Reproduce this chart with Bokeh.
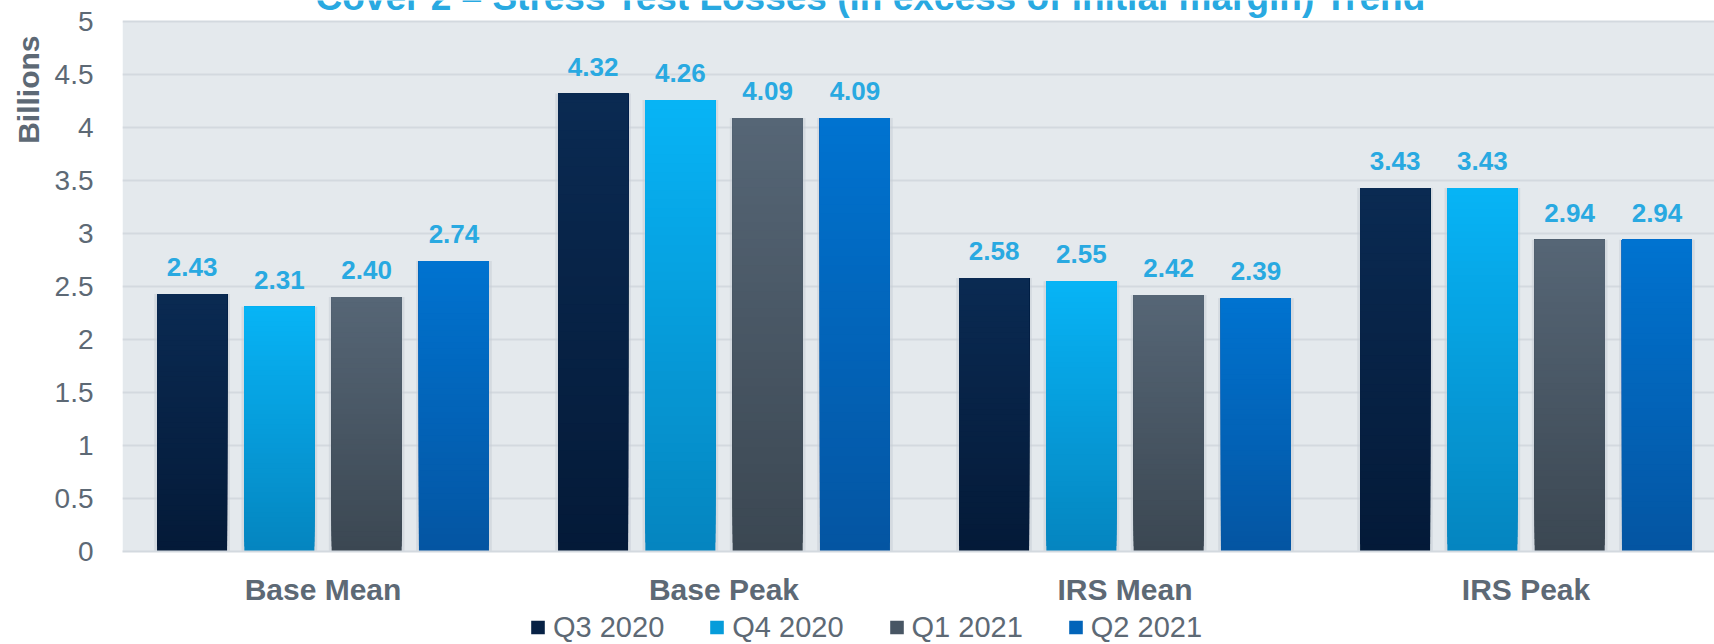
from bokeh.plotting import figure
from bokeh.layouts import column
from bokeh.models import (Range1d, FixedTicker, NumeralTickFormatter, Label, LabelSet,
                          ColumnDataSource, BoxAnnotation, Title)
from bokeh.core.properties import value
from bokeh.embed import file_html
from bokeh.resources import INLINE

# ---- data ----
categories = ["Base Mean", "Base Peak", "IRS Mean", "IRS Peak"]
series = ["Q3 2020", "Q4 2020", "Q1 2021", "Q2 2021"]
q3_2020 = [2.43, 4.32, 2.58, 3.43]
q4_2020 = [2.31, 4.26, 2.55, 3.43]
q1_2021 = [2.40, 4.09, 2.42, 2.94]
q2_2021 = [2.74, 4.09, 2.39, 2.94]
y_ticks = [0, 0.5, 1, 1.5, 2, 2.5, 3, 3.5, 4, 4.5, 5]
title_text = "Cover 2 \u2013 Stress Test Losses (in excess of initial margin) Trend"
y_label = "Billions"

values = [q3_2020, q4_2020, q1_2021, q2_2021]
# gradient colours (top, bottom) per series
grad = [("#0A2A52", "#041A38"), ("#07B4F6", "#0585BF"),
        ("#566676", "#3B4752"), ("#0073D0", "#0455A2")]

GRAY = "#5D6975"
BLUE = "#29A9E1"
FONT = "Liberation Sans"

PITCH = 0.2177
BAR_W = 0.1746
N = 50
Y_MAX = y_ticks[-1]

def hex2rgb(h):
    h = h.lstrip("#")
    return tuple(int(h[i:i + 2], 16) for i in (0, 2, 4))

def mix(c1, c2, t):
    a, b = hex2rgb(c1), hex2rgb(c2)
    return "#%02x%02x%02x" % tuple(round(a[k] * (1 - t) + b[k] * t) for k in range(3))

# ---------------- main chart ----------------
p = figure(width=1714, height=610, x_range=Range1d(0, 3.97), y_range=Range1d(0, Y_MAX * 551 / 530),
           output_backend="svg", toolbar_location=None,
           min_border_left=122, min_border_right=0, min_border_top=0, min_border_bottom=59)

p.background_fill_color = "white"
p.border_fill_color = "white"
p.outline_line_color = None
# plot-area background only up to the top tick
p.add_layout(BoxAnnotation(bottom=0, top=Y_MAX, fill_color="#E4E9ED", fill_alpha=1,
                           line_color=None, level="image"))

p.xgrid.visible = False
p.ygrid.grid_line_color = "#D3D9DF"
p.ygrid.grid_line_width = 2
p.yaxis.ticker = FixedTicker(ticks=y_ticks)
p.yaxis.formatter = NumeralTickFormatter(format="0.[0]")
p.yaxis.axis_line_color = None
p.yaxis.major_tick_line_color = None
p.yaxis.minor_tick_line_color = None
p.yaxis.major_tick_out = 0
p.yaxis.major_tick_in = 0
p.yaxis.major_label_standoff = 29
p.yaxis.major_label_text_font = FONT
p.yaxis.major_label_text_font_size = "28px"
p.yaxis.major_label_text_color = GRAY

p.add_layout(Title(text=y_label, align="right", offset=35, standoff=13,
                   text_font=FONT, text_font_style="bold", text_font_size="30px",
                   text_color=GRAY), "left")

centers = [i + 0.5 for i in range(len(categories))]
p.xaxis.ticker = FixedTicker(ticks=centers)
p.xaxis.major_label_overrides = {c: name for c, name in zip(centers, categories)}
p.xaxis.axis_line_color = "#D3D9DF"
p.xaxis.axis_line_width = 2
p.xaxis.major_tick_line_color = None
p.xaxis.minor_tick_line_color = None
p.xaxis.major_tick_out = 0
p.xaxis.major_tick_in = 0
p.xaxis.major_label_standoff = 21
p.xaxis.major_label_text_font = FONT
p.xaxis.major_label_text_font_style = "bold"
p.xaxis.major_label_text_font_size = "30px"
p.xaxis.major_label_text_color = GRAY

# ---------------- legend strip ----------------
p2 = figure(width=1714, height=34, x_range=Range1d(0, 3.97), y_range=Range1d(100, 101),
            output_backend="svg", toolbar_location=None,
            min_border_left=122, min_border_right=0, min_border_top=0, min_border_bottom=0)
p2.background_fill_color = "white"
p2.border_fill_color = "white"
p2.outline_line_color = None
p2.axis.visible = False
p2.grid.visible = False

lab_x, lab_y, lab_t = [], [], []
for s, (name, vals) in enumerate(zip(series, values)):
    off = (s - 1.5) * PITCH
    xs = [c + off for c in centers]
    top_c, bot_c = grad[s]
    # soft shadow
    p.vbar(x=xs, top=vals, bottom=0, width=BAR_W + 0.014, fill_color="#C7CED5",
           fill_alpha=0.55, line_color=None)
    # vertical gradient bars
    bx, bb, bt, bc = [], [], [], []
    for x, v in zip(xs, vals):
        for i in range(N):
            bx.append(x)
            bb.append(v * i / N)
            bt.append(v)
            bc.append(mix(bot_c, top_c, (i + 0.5) / N))
        lab_x.append(x)
        lab_y.append(v)
        lab_t.append("%.2f" % v)
    src = ColumnDataSource(dict(x=bx, bottom=bb, top=bt, color=bc))
    p.vbar(x="x", bottom="bottom", top="top", width=BAR_W, fill_color="color",
           line_color=None, source=src)
    # same series in the legend strip (outside its visible range, only feeds the legend)
    p2.vbar(x=xs, top=vals, bottom=0, width=BAR_W, fill_color=mix(bot_c, top_c, 0.5),
            line_color=None, legend_label=name)

labels = LabelSet(x="x", y="y", text="t", source=ColumnDataSource(dict(x=lab_x, y=lab_y, t=lab_t)),
                  text_align="center", text_baseline="alphabetic", y_offset=18,
                  text_font=value(FONT), text_font_style="bold", text_font_size="26px",
                  text_color=BLUE)
p.add_layout(labels)

title = Label(x=1.865, y=Y_MAX + 24 / 106, text=title_text, text_align="center",
              text_baseline="middle", text_font=FONT, text_font_style="bold",
              text_font_size="37px", text_color=BLUE)
p.add_layout(title)

legend = p2.legend[0]
legend.orientation = "horizontal"
legend.location = "left"
legend.glyph_width = 17
legend.glyph_height = 17
legend.label_standoff = 7
legend.spacing = 44
legend.padding = 0
legend.margin = 407
legend.border_line_color = None
legend.background_fill_alpha = 0
legend.label_text_font = FONT
legend.label_text_font_size = "29px"
legend.label_text_color = GRAY

layout = column(p, p2, spacing=0)
open("out.html", "w").write(file_html(layout, INLINE))
